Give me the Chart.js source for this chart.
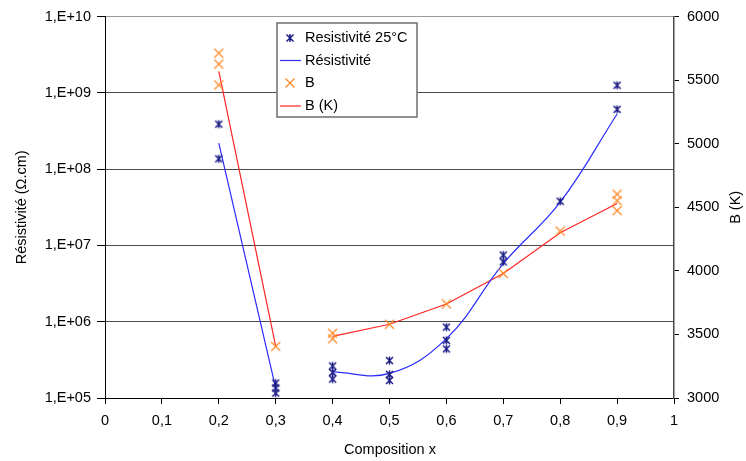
<!DOCTYPE html>
<html>
<head>
<meta charset="utf-8">
<script src="https://cdn.jsdelivr.net/npm/chart.js@4/dist/chart.umd.min.js"></script>
<style>
  body { margin: 0; background: #fff; }
  #wrap { width: 746px; height: 461px; }
</style>
</head>
<body>
<div id="wrap"><canvas id="chart" width="746" height="461"></canvas></div>
<script>
// tick labels
const xTicks = [0, 0.1, 0.2, 0.3, 0.4, 0.5, 0.6, 0.7, 0.8, 0.9, 1];
const xLabels = ["0", "0,1", "0,2", "0,3", "0,4", "0,5", "0,6", "0,7", "0,8", "0,9", "1"];
const resTicks = [1e5, 1e6, 1e7, 1e8, 1e9, 1e10];
const resLabels = ["1,E+05", "1,E+06", "1,E+07", "1,E+08", "1,E+09", "1,E+10"];
const bTicks = [3000, 3500, 4000, 4500, 5000, 5500, 6000];

// Resistivité 25°C (measured points)
const resX = [0.2, 0.2, 0.3, 0.3, 0.3, 0.4, 0.4, 0.4, 0.5, 0.5, 0.5, 0.6, 0.6, 0.6, 0.7, 0.7, 0.8, 0.9, 0.9];
const resVal = [3.9e8, 1.37e8, 1.57e5, 1.35e5, 1.16e5, 2.63e5, 2.16e5, 1.77e5, 3.1e5, 2.04e5, 1.7e5,
                8.5e5, 5.7e5, 4.4e5, 7.5e6, 6.1e6, 3.8e7, 1.26e9, 6.1e8];

// Résistivité (mean curve, gap between 0.3 and 0.4)
const lineX = [0.2, 0.3, 0.35, 0.4, 0.5, 0.6, 0.7, 0.8, 0.9];
const resLine = [2.2e8, 1.35e5, null, 2.2e5, 2.1e5, 6.0e5, 5.8e6, 3.7e7, 5.3e8];

// B points
const bX = [0.2, 0.2, 0.2, 0.3, 0.4, 0.4, 0.5, 0.6, 0.7, 0.8, 0.9, 0.9, 0.9];
const bVal = [5713, 5627, 5463, 3406, 3510, 3466, 3580, 3740, 3980, 4313, 4604, 4552, 4474];

// B (K) line
const bLine = [5570, 3406, null, 3485, 3580, 3740, 3980, 4300, 4530];

const NAVY = "#1c1c86";
const BLUE = "#2b2bff";
const ORANGE = "#ff8a28";
const RED = "#ff2424";
const FONT = "Liberation Sans, Arial, sans-serif";

function drawAsterisk(ctx, x, y) {
  ctx.save();
  ctx.strokeStyle = NAVY;
  ctx.lineWidth = 1.5;
  ctx.beginPath();
  ctx.moveTo(x - 3.5, y - 3.5); ctx.lineTo(x + 3.5, y + 3.5);
  ctx.moveTo(x + 3.5, y - 3.5); ctx.lineTo(x - 3.5, y + 3.5);
  ctx.moveTo(x, y - 4); ctx.lineTo(x, y + 4);
  ctx.stroke();
  ctx.restore();
}

function drawCross(ctx, x, y) {
  ctx.save();
  ctx.strokeStyle = ORANGE;
  ctx.lineWidth = 1.3;
  ctx.beginPath();
  ctx.moveTo(x - 4.5, y - 4.5); ctx.lineTo(x + 4.5, y + 4.5);
  ctx.moveTo(x + 4.5, y - 4.5); ctx.lineTo(x - 4.5, y + 4.5);
  ctx.stroke();
  ctx.restore();
}

function markerCanvas(fn) {
  const c = document.createElement("canvas");
  c.width = 13; c.height = 13;
  fn(c.getContext("2d"), 6.5, 6.5);
  return c;
}

const asteriskImg = markerCanvas(drawAsterisk);
const crossImg = markerCanvas(drawCross);

const pairs = (xs, ys) => xs.map((x, i) => ({ x, y: ys[i] }));

const overlay = {
  id: "overlay",
  afterDraw(chart) {
    const { ctx, chartArea } = chart;
    ctx.save();
    ctx.fillStyle = "#000";
    ctx.font = "14.5px " + FONT;
    ctx.textAlign = "center";
    ctx.textBaseline = "middle";

    // axis titles
    const midY = (chartArea.top + chartArea.bottom) / 2;
    ctx.save();
    ctx.translate(22, midY);
    ctx.rotate(-Math.PI / 2);
    ctx.fillText("Résistivité (Ω.cm)", 0, 0);
    ctx.restore();

    ctx.save();
    ctx.translate(736, midY);
    ctx.rotate(-Math.PI / 2);
    ctx.fillText("B (K)", 0, 0);
    ctx.restore();

    ctx.fillText("Composition x", 390, 450);

    // legend box
    const lx = 277, ly = 23, lw = 140, lh = 94;
    ctx.fillStyle = "#fff";
    ctx.fillRect(lx, ly, lw, lh);
    ctx.strokeStyle = "#6e6e6e";
    ctx.lineWidth = 1.5;
    ctx.strokeRect(lx, ly, lw, lh);

    const rows = [38, 60.5, 83, 106];
    const names = ["Resistivité 25°C", "Résistivité", "B", "B (K)"];
    drawAsterisk(ctx, 290, rows[0]);
    ctx.lineWidth = 1.2;
    ctx.strokeStyle = BLUE;
    ctx.beginPath(); ctx.moveTo(280, rows[1]); ctx.lineTo(301, rows[1]); ctx.stroke();
    drawCross(ctx, 290, rows[2]);
    ctx.strokeStyle = RED;
    ctx.beginPath(); ctx.moveTo(280, rows[3]); ctx.lineTo(301, rows[3]); ctx.stroke();

    ctx.fillStyle = "#000";
    ctx.textAlign = "left";
    names.forEach((n, i) => ctx.fillText(n, 305, rows[i]));
    ctx.restore();
  },
};

new Chart(document.getElementById("chart"), {
  type: "scatter",
  data: {
    datasets: [
      {
        label: "Resistivité 25°C",
        data: pairs(resX, resVal),
        yAxisID: "y",
        pointStyle: asteriskImg,
        showLine: false,
        order: 0,
      },
      {
        label: "Résistivité",
        data: pairs(lineX, resLine),
        yAxisID: "y",
        showLine: true,
        borderColor: BLUE,
        borderWidth: 1.2,
        pointRadius: 0,
        tension: 0.4,
        spanGaps: false,
        order: 2,
      },
      {
        label: "B",
        data: pairs(bX, bVal),
        yAxisID: "y2",
        pointStyle: crossImg,
        showLine: false,
        order: 0,
      },
      {
        label: "B (K)",
        data: pairs(lineX, bLine),
        yAxisID: "y2",
        showLine: true,
        borderColor: RED,
        borderWidth: 1.2,
        pointRadius: 0,
        tension: 0,
        spanGaps: false,
        order: 2,
      },
    ],
  },
  options: {
    responsive: false,
    animation: false,
    layout: { padding: { top: 14, left: 0, right: 0, bottom: 0 } },
    plugins: { legend: { display: false }, tooltip: { enabled: false } },
    scales: {
      x: {
        type: "linear",
        min: 0,
        max: 1,
        afterBuildTicks: (s) => { s.ticks = xTicks.map((v) => ({ value: v })); },
        afterFit: (s) => { s.height = 63; },
        ticks: {
          callback: (v, i) => xLabels[i],
          color: "#000",
          font: { family: FONT, size: 14.5 },
          padding: 8,
          maxRotation: 0,
        },
        grid: { drawOnChartArea: false, tickLength: 6, tickColor: "#000" },
        border: { color: "#000", width: 1 },
      },
      y: {
        type: "logarithmic",
        position: "left",
        min: 1e5,
        max: 1e10,
        afterBuildTicks: (s) => { s.ticks = resTicks.map((v) => ({ value: v })); },
        afterFit: (s) => { s.width = 105; },
        ticks: {
          callback: (v, i) => resLabels[i],
          color: "#000",
          font: { family: FONT, size: 14.5 },
          padding: 6,
        },
        grid: {
          color: (c) => (c.tick && c.tick.value === 1e10 ? "#9a9a9a" : "#4a4a4a"),
          tickLength: 8,
          tickColor: "#000",
        },
        border: { color: "#000", width: 1 },
      },
      y2: {
        type: "linear",
        position: "right",
        min: 3000,
        max: 6000,
        afterBuildTicks: (s) => { s.ticks = bTicks.map((v) => ({ value: v })); },
        afterFit: (s) => { s.width = 72; },
        ticks: {
          callback: (v) => String(v),
          color: "#000",
          font: { family: FONT, size: 14.5 },
          padding: 8,
        },
        grid: { drawOnChartArea: false, tickLength: 5, tickColor: "#000" },
        border: { color: "#4a4a4a", width: 1.5 },
      },
    },
  },
  plugins: [overlay],
});
</script>
</body>
</html>
